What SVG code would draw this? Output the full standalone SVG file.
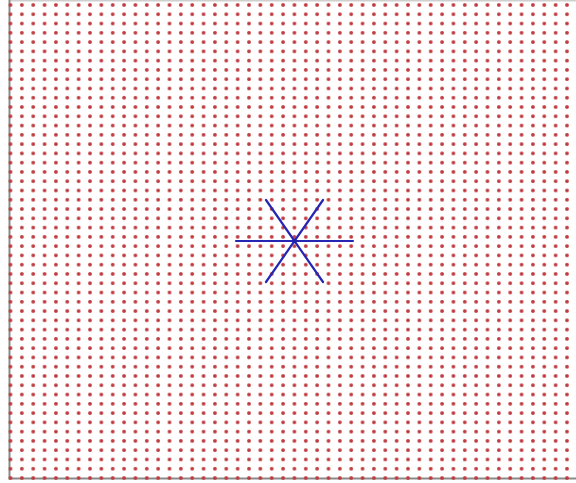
<svg xmlns="http://www.w3.org/2000/svg" width="576" height="483" viewBox="0 0 576 483">
  <style>
    .frame { stroke: #8a8a8a; stroke-width: 2; fill: none; }
    .frame-top { stroke: #d0d0d0; stroke-width: 1.5; fill: none; }
    .star { stroke: #2626b4; stroke-width: 2.2; stroke-linecap: round; fill: none; }
  </style>
  <defs>
    <pattern id="dots" patternUnits="userSpaceOnUse" x="4.82" y="0.36" width="11.357" height="9.275">
      <circle cx="5.68" cy="4.64" r="1.9" fill="#c03a3e"/>
    </pattern>
  </defs>
  <rect width="576" height="483" fill="#ffffff"/>
  <g id="frame">
    <line class="frame-top" x1="9" y1="0.75" x2="576" y2="0.75"/>
    <line class="frame" x1="9.5" y1="0" x2="9.5" y2="479.5"/>
    <line class="frame" x1="9" y1="478.5" x2="576" y2="478.5"/>
  </g>
  <g id="grid">
    <rect x="4.82" y="0.36" width="568" height="482" fill="url(#dots)"/>
  </g>
  <g id="connectors">
    <line class="star" x1="236" y1="241" x2="353" y2="241"/>
    <line class="star" x1="266" y1="200" x2="323" y2="282"/>
    <line class="star" x1="323" y1="200" x2="266" y2="282"/>
  </g>
  <g id="center">
    <circle cx="294.5" cy="241" r="2.2" fill="#2020a8"/>
  </g>
</svg>
